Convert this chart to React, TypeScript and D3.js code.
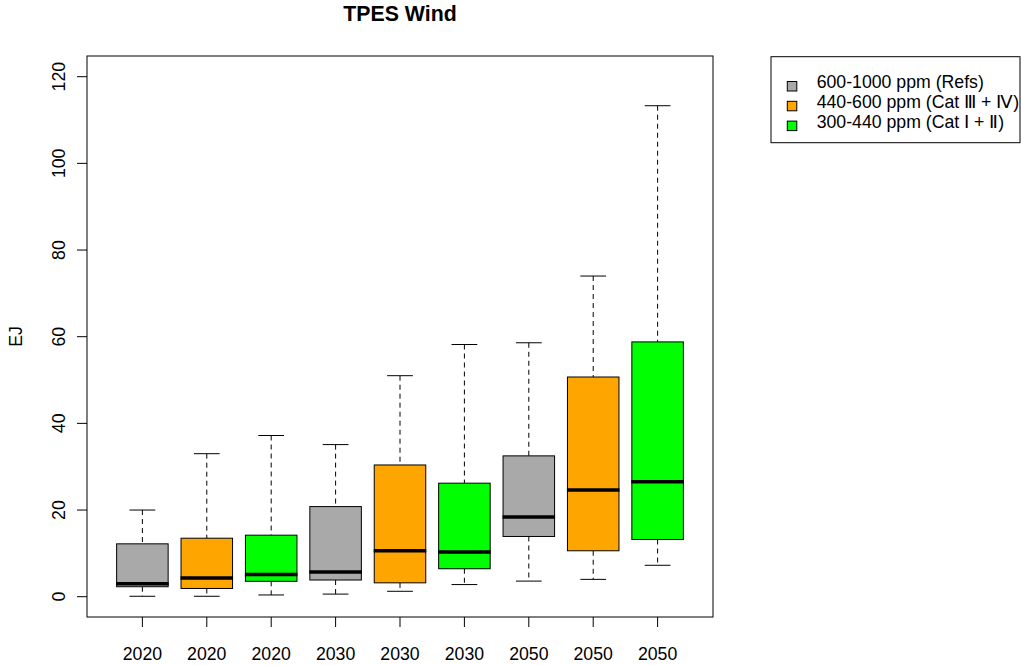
import React from "react";
import * as d3 from "d3";

// Box-plot statistics for wind primary energy supply, per year and scenario group (EJ)
const categories = ["2020", "2020", "2020", "2030", "2030", "2030", "2050", "2050", "2050"];
const groups = [0, 1, 2, 0, 1, 2, 0, 1, 2];
const whiskerLow = [0.1, 0.1, 0.4, 0.6, 1.25, 2.8, 3.6, 4.0, 7.25];
const q1 = [2.3, 1.9, 3.55, 3.85, 3.2, 6.45, 13.9, 10.6, 13.2];
const median = [3.0, 4.3, 5.1, 5.7, 10.6, 10.3, 18.4, 24.6, 26.5];
const q3 = [12.2, 13.5, 14.2, 20.8, 30.4, 26.2, 32.5, 50.7, 58.8];
const whiskerHigh = [20.0, 33.0, 37.2, 35.1, 51.0, 58.2, 58.6, 74.0, 113.3];

const yTicks = [0, 20, 40, 60, 80, 100, 120];
const legendLabels = ["600-1000 ppm (Refs)", "440-600 ppm (Cat Ⅲ + Ⅳ)", "300-440 ppm (Cat Ⅰ + Ⅱ)"];
const groupColors = ["#A9A9A9", "#FFA500", "#00FF00"];

const W = 1021;
const H = 665;
const plot = { left: 87, right: 713, top: 56, bottom: 617 };
const FONT = "'Liberation Sans', Arial, Helvetica, sans-serif";
const FS = 17.7;

export default function App() {
  const n = categories.length;
  const x = d3.scaleLinear().domain([0.14, n + 0.86]).range([plot.left, plot.right]);
  const y = d3.scaleLinear().domain([0, 120]).range([596.7, 76.7]);
  const half = 0.4;
  const capHalf = 0.2;

  return (
    <svg
      width={W}
      height={H}
      style={{ position: "absolute", left: 0, top: 0, background: "#fff" }}
      fontFamily={FONT}
    >
      {/* title */}
      <text x={(plot.left + plot.right) / 2} y={20.7} textAnchor="middle" fontWeight="bold" fontSize={21.3}>
        TPES Wind
      </text>

      {/* boxes */}
      {categories.map((c, i) => {
        const cx = x(i + 1);
        const x0 = x(i + 1 - half);
        const x1 = x(i + 1 + half);
        const c0 = x(i + 1 - capHalf);
        const c1 = x(i + 1 + capHalf);
        return (
          <g key={i}>
            <line x1={cx} x2={cx} y1={y(whiskerHigh[i])} y2={y(q3[i])} stroke="#000" strokeDasharray="5,4" />
            <line x1={cx} x2={cx} y1={y(q1[i])} y2={y(whiskerLow[i])} stroke="#000" strokeDasharray="5,4" />
            <line x1={c0} x2={c1} y1={y(whiskerHigh[i])} y2={y(whiskerHigh[i])} stroke="#000" />
            <line x1={c0} x2={c1} y1={y(whiskerLow[i])} y2={y(whiskerLow[i])} stroke="#000" />
            <rect
              x={x0}
              y={y(q3[i])}
              width={x1 - x0}
              height={y(q1[i]) - y(q3[i])}
              fill={groupColors[groups[i]]}
              stroke="#000"
            />
            <line x1={x0 - 0.5} x2={x1 + 0.5} y1={y(median[i])} y2={y(median[i])} stroke="#000" strokeWidth={3.5} />
          </g>
        );
      })}

      {/* plot frame */}
      <rect
        x={plot.left}
        y={plot.top}
        width={plot.right - plot.left}
        height={plot.bottom - plot.top}
        fill="none"
        stroke="#000"
      />

      {/* y axis */}
      {yTicks.map((t) => (
        <g key={t}>
          <line x1={plot.left - 10} x2={plot.left} y1={y(t)} y2={y(t)} stroke="#000" />
          <text transform={`translate(65,${y(t)}) rotate(-90)`} textAnchor="middle" fontSize={FS}>
            {t}
          </text>
        </g>
      ))}
      <text transform={`translate(22,${(plot.top + plot.bottom) / 2}) rotate(-90)`} textAnchor="middle" fontSize={FS}>
        EJ
      </text>

      {/* x axis */}
      {categories.map((c, i) => (
        <g key={i}>
          <line x1={x(i + 1)} x2={x(i + 1)} y1={plot.bottom} y2={plot.bottom + 10} stroke="#000" />
          <text x={x(i + 1)} y={660} textAnchor="middle" fontSize={FS}>
            {c}
          </text>
        </g>
      ))}

      {/* legend */}
      <rect x={771} y={56.7} width={249} height={86} fill="#fff" stroke="#000" />
      {legendLabels.map((l, k) => {
        const base = 88.3 + k * 19.8;
        return (
          <g key={k}>
            <rect x={787.3} y={base - 6.8} width={9.5} height={9.5} fill={groupColors[k]} stroke="#000" />
            <text x={816.7} y={base} fontSize={FS}>
              {l}
            </text>
          </g>
        );
      })}
    </svg>
  );
}
